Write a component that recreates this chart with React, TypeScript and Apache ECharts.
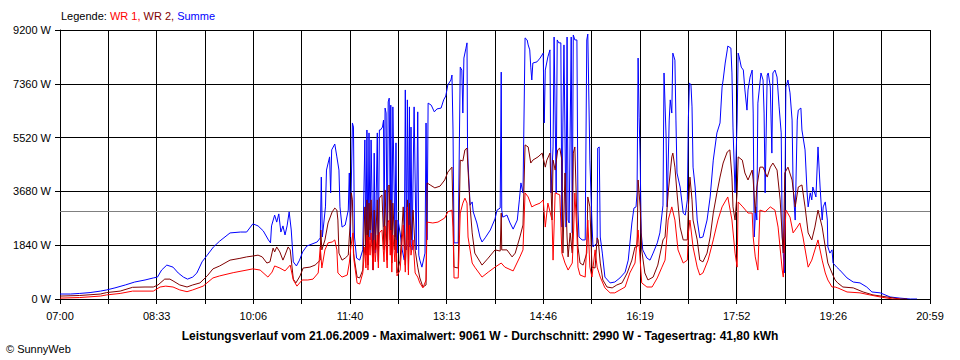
import { useEffect, useRef } from "react";
import * as echarts from "echarts";

// time axis: minutes after 07:00 (07:00 -> 20:59 = 839 minutes)
const dayMinutes = 839;
const gridDivisions = 18;
const timeTickLabels = ["07:00", "08:33", "10:06", "11:40", "13:13", "14:46", "16:19", "17:52", "19:26", "20:59"];
const yMax = 9200;
const yStep = 1840;
const averageW = 2990;
const captionText =
  "Leistungsverlauf vom 21.06.2009 - Maximalwert: 9061 W - Durchschnitt: 2990 W - Tagesertrag: 41,80 kWh";

// [minute after 07:00, W]
const summe: [number, number][] = [
  [0,170],[10,170],[19,190],[29,220],[39,270],[45,310],[53,380],[63,480],[72,580],[82,650],[90,720],[94,750],[98,990],[103,1160],[109,1090],[114,890],[119,750],[123,680],[128,750],[132,890],[137,1270],[142,1500],[148,1780],[154,1980],[164,2260],[174,2290],[180,2290],[186,2570],[191,2500],[196,2330],[201,2020],[203,1920],[204,2500],[207,2870],[209,2630],[211,2910],[213,2290],[215,2500],[217,2190],[219,2500],[221,2980],[223,2360],[225,1270],[228,1130],[231,1330],[234,1610],[238,1810],[243,1880],[248,1950],[251,2090],[252,4170],[253,2120],[256,3150],[257,4410],[260,4860],[261,3630],[262,5100],[265,5300],[267,4860],[269,4410],[270,3150],[272,2460],[275,2530],[278,3040],[279,4310],[280,2120],[282,6020],[283,5880],[284,2120],[286,1400],[289,1330],[292,1680],[294,5440],[295,1570],[296,5780],[297,1330],[298,5680],[299,2020],[300,5440],[302,990],[303,4990],[304,1570],[306,5680],[307,1330],[308,5780],[309,5780],[311,5880],[312,6120],[312.5,2460],[313.5,6530],[314.5,6360],[315.5,1570],[316.5,6740],[317.5,6870],[318.5,2700],[319,6630],[320,1570],[321,6570],[323,2120],[324,5340],[325,1570],[326,2700],[328,2260],[330,1680],[332,1330],[333,7150],[334,1680],[335,6810],[336,2020],[337,6570],[337.5,1780],[338.5,5880],[339.5,1680],[341.5,6570],[342.5,4070],[343.5,1680],[345,6400],[346,1500],[347,1330],[349,1090],[352,1570],[353,6020],[354,2020],[355,6700],[358,6630],[361,6400],[363.5,6500],[367.5,6530],[370,6810],[372,6940],[374,7320],[377,7490],[378,7660],[379,5780],[380,1920],[384,1920],[386,7930],[387.5,7830],[388.5,6360],[389.5,8240],[391.5,8580],[392.5,8760],[393,5200],[393.5,4650],[395.5,3210],[397.5,3320],[398.5,2980],[402,2600],[405,2120],[407,1950],[410,2090],[415,2360],[419.5,2740],[421.5,3040],[424.5,3110],[425.5,7760],[426,3040],[427,2800],[431,2870],[434,2600],[437,2390],[441,2700],[443,3390],[444.5,3970],[446.5,3630],[448.5,8930],[450.5,8860],[451.5,8690],[453,8520],[454,7930],[455,7490],[456,8070],[460,8110],[463,8240],[466,8410],[467,6020],[468,7830],[470.5,8280],[472.5,8520],[473.5,3630],[475.5,5200],[476.5,8960],[478.5,3630],[479.5,8860],[481,8760],[483,8760],[484,2460],[485,6020],[486,8690],[488,2460],[489,8960],[490,2700],[491,2600],[493,8960],[494,2260],[495,9030],[496.5,8860],[498.5,8860],[499.5,3040],[500.5,2120],[503.5,2020],[506.5,2020],[508,8860],[509,9061],[511,4750],[513,2600],[514,1780],[518,1920],[518.5,5160],[520,5200],[521,2120],[523,1570],[525.5,750],[530.5,550],[535,580],[540,720],[545,920],[548,1330],[551.5,2600],[553.5,3110],[555.5,3150],[556.5,3630],[557.5,8240],[558.5,6220],[559.5,4750],[560.5,2260],[562,1680],[566,1400],[569,1330],[572,1570],[576,1920],[578.5,2260],[581.5,3210],[582.5,7730],[584.5,5540],[585.5,3150],[587.5,6120],[588.5,6810],[590,6360],[591,8410],[593,8170],[594,6120],[595,4310],[598,3830],[601,2940],[603,2870],[605,3390],[606,6220],[607,7390],[608.5,7320],[609.5,6570],[610.5,4510],[612.5,3830],[614.5,2700],[617,2090],[620,2120],[624,2700],[627,3490],[630,4750],[633.5,5680],[636.5,6020],[638.5,7250],[639.5,7490],[641.5,8070],[643.5,8520],[644,8650],[647,8580],[648,7730],[649,5880],[651,3630],[653,6120],[654,8410],[655,8280],[657,7930],[659,7830],[660.5,7150],[662.5,6460],[663.5,7150],[665.5,7590],[667.5,7830],[668.5,6360],[669.5,2120],[671,3150],[672,2700],[673,6700],[676,7730],[678,7490],[679,6360],[680,3630],[682,7660],[683,7730],[685,7250],[686.5,4990],[687.5,7730],[689.5,7830],[691.5,7590],[693.5,6570],[695.5,5680],[696.5,2120],[697.5,1570],[698.5,890],[700,7250],[702,7490],[704,7050],[706,6120],[707,3830],[709,2700],[711,6120],[712,6460],[714.5,6530],[715.5,5780],[718.5,5100],[720.5,3630],[721.5,3150],[723.5,3630],[725,3390],[726,3830],[729,3490],[731,5200],[733,3830],[735,2700],[736,3150],[738,3320],[740,2700],[740.5,1780],[742.5,1570],[744.5,1680],[745.5,1230],[749,1090],[752,990],[759,720],[765,580],[771.5,550],[778,410],[783,240],[791,210],[800.5,70],[810,30],[820,0],[826.5,0],
];

const wr2: [number, number][] = [
  [0,100],[19,120],[39,170],[45,220],[58,270],[70,400],[82,410],[90,410],[94.5,480],[101,680],[106,680],[109,620],[115.5,480],[122.5,410],[128,480],[135,550],[142,790],[147.5,1030],[154,1130],[164,1330],[173.5,1390],[180,1440],[186,1470],[191,1500],[195,1440],[199.5,1230],[202.5,1270],[205.5,1740],[207,1610],[209,1780],[212,1610],[215,1330],[217,1500],[220,1780],[222,1680],[225,680],[227.5,550],[231.5,790],[234.5,1060],[241,1090],[246,1160],[251,1330],[251.5,2360],[252.5,1680],[255.5,2020],[258.5,2600],[262.5,2980],[265,3110],[267,3040],[268,2700],[269,1570],[272,1330],[275,1400],[278,1500],[279,2120],[280,2600],[281,3630],[282,3390],[283,1570],[286.5,750],[289,720],[292,990],[294,3150],[295,1500],[296,3390],[297,1160],[298,3280],[299,2360],[300,3390],[302,990],[303,3040],[304,1680],[306,3390],[307,1270],[308,3450],[310.5,3560],[312.5,1680],[313.5,3730],[315.5,1330],[316.5,3860],[317.5,3900],[318.5,2020],[319,3390],[320,1230],[321,3280],[323,1680],[324,2700],[325,890],[328,1330],[331,3150],[333,1160],[335,3390],[336,990],[337,3280],[338.5,2020],[340.5,3040],[342.5,1680],[345,1090],[347,720],[350,410],[353,480],[354,3970],[357,3900],[361.5,3800],[366.5,3860],[371,4070],[374,4340],[378,4510],[379,2940],[380,1090],[384,1060],[386,4750],[388.5,4720],[390.5,5100],[392.5,5160],[393.5,4410],[395.5,3150],[397.5,2260],[400,1570],[407,1160],[413,1400],[419.5,1680],[424.5,1640],[425.5,2940],[426,1680],[431,1680],[436,1440],[439,1570],[443.5,2120],[446.5,2530],[448.5,5270],[451.5,5200],[454,4650],[456,4750],[461,4860],[465,4990],[466,4820],[468,4510],[469.5,4750],[472.5,4990],[474.5,2700],[475.5,4750],[477.5,4410],[480,5100],[482,5160],[484,4750],[485,1570],[487,4310],[489,2120],[490,1440],[492,2260],[494,1570],[495,4990],[496.5,5200],[498.5,2700],[499.5,1780],[501.5,1230],[504.5,1160],[508,1570],[509,3490],[511,3150],[513,1090],[516,1060],[518,2090],[519,2020],[521,1230],[523.5,650],[527.5,410],[532.5,380],[537,480],[542,550],[547,890],[551.5,1330],[554.5,1780],[556.5,1780],[557.5,4070],[559.5,3150],[561,1680],[564,890],[567,650],[572,750],[576.5,1160],[581.5,2020],[583.5,2120],[586.5,3630],[590,4860],[591,4990],[593,4510],[595,3630],[598,2460],[601,2020],[605,2020],[606,3150],[607.5,4170],[609.5,3390],[610.5,2700],[614.5,2020],[617,1330],[620,1270],[624,1570],[627,2120],[630,2940],[633.5,3630],[636.5,4170],[639.5,4650],[643.5,5030],[646,5100],[648,4170],[649,3150],[651,2700],[653,3630],[654,4860],[658,4750],[660.5,4310],[663.5,4070],[667.5,4410],[668.5,4070],[670.5,2940],[672,3830],[675,4510],[678,4510],[682,4170],[685,4510],[687.5,4650],[691.5,4410],[694.5,3390],[696.5,2120],[697.5,1570],[699,4310],[702,4510],[706,4070],[709,3150],[712,3830],[715.5,3900],[718.5,3150],[721.5,2260],[725,2020],[728,2460],[731,3040],[735,2460],[738,1780],[740.5,1230],[744.5,890],[747.5,650],[750,550],[755,410],[765,380],[774.5,240],[784,140],[797.5,70],[810,0],[817,0],
];

const wr1: [number, number][] = [
  [0,30],[19,50],[39,100],[45,140],[58,190],[70,270],[90,270],[96.5,410],[102,440],[109,410],[115.5,310],[122.5,250],[128,310],[138,440],[147.5,720],[154,790],[167,900],[186,1030],[193,990],[200.5,750],[204.5,920],[207,1130],[212,1060],[217,960],[222,1160],[225,650],[228.5,440],[233.5,650],[239,650],[244,680],[249,890],[251,1780],[252.5,1060],[255.5,1680],[258.5,1920],[262.5,1950],[265,2020],[267,1680],[268,890],[272,750],[277,820],[279,1230],[280.5,1780],[282.5,2260],[283.5,1330],[286.5,550],[289,510],[292,890],[294,1780],[295,1060],[296,2190],[297,990],[298,2120],[299,1500],[300,2260],[302,990],[303,2020],[304,1270],[306,2190],[307,1060],[308,2260],[310.5,2360],[312.5,1270],[313.5,2500],[315.5,1060],[316.5,2630],[317.5,2700],[318.5,1500],[319,2360],[320,920],[321,2190],[323,1270],[324,2020],[325,790],[328,990],[331,2530],[333,920],[335,3150],[336,820],[337,2530],[338.5,1500],[340.5,2020],[342.5,890],[345,750],[347,550],[350,380],[353,650],[354,2630],[359.5,2600],[364.5,2630],[371,2770],[374,2980],[378,3040],[379,2460],[380,720],[384,720],[386,2940],[388.5,3280],[390.5,3450],[392.5,3280],[393.5,2120],[397.5,1230],[400,1090],[407,750],[413,920],[419.5,1090],[425.5,1230],[429,1090],[437,960],[443.5,1440],[446.5,1680],[448.5,3630],[451.5,3490],[455,3150],[458,3210],[463,3280],[466,3390],[468,2460],[470.5,3280],[474.5,2700],[475.5,1330],[477.5,3630],[482,3560],[484,1570],[487,1230],[490,990],[494,1230],[495,2020],[496.5,3630],[498.5,2260],[499.5,1090],[501.5,820],[506.5,750],[509,2700],[511,1090],[513,750],[516,1680],[518,1090],[521,750],[525.5,380],[530.5,210],[535,210],[540,310],[545,410],[549.5,890],[554.5,1230],[557.5,2360],[559.5,1330],[561,550],[566,410],[571,410],[576,720],[580.5,1090],[583.5,1330],[586.5,2700],[590,3150],[593,2700],[596,1680],[601,1230],[605,1330],[606,2260],[607.5,2700],[610.5,1780],[614.5,1090],[617,820],[620,890],[625,1330],[630,2020],[634.5,2700],[638.5,3150],[644,3490],[648,2700],[651,1570],[653,1090],[654,3320],[658.5,3150],[663.5,2940],[667.5,2940],[668.5,2120],[670.5,1440],[673,990],[675,3040],[680,2980],[685,3150],[689.5,3040],[692.5,2460],[696.5,990],[697.5,750],[700,3040],[704,2800],[707,2260],[711,2460],[713.5,2600],[716.5,2120],[721.5,1090],[725,1330],[728,1680],[731,2020],[735,1330],[738,890],[740.5,650],[744.5,410],[747.5,410],[750,380],[759,240],[771.5,210],[781,140],[791,70],[803,0],[810,0],
];

const FONT = "'Liberation Sans', Arial, sans-serif";

export default function App() {
  const ref = useRef<HTMLDivElement>(null);
  useEffect(() => {
    if (!ref.current) return;
    const chart = echarts.init(ref.current, null, { renderer: "svg" });
    const step = dayMinutes / gridDivisions;
    chart.setOption({
      animation: false,
      backgroundColor: "#ffffff",
      textStyle: { fontFamily: FONT },
      title: [
        {
          left: 61,
          top: 10,
          padding: 0,
          text: "{k|Legende: }{r|WR 1, }{m|WR 2, }{b|Summe}",
          textStyle: {
            fontSize: 11,
            fontWeight: "normal",
            fontFamily: FONT,
            rich: {
              k: { color: "#000000", fontSize: 11, fontFamily: FONT },
              r: { color: "#ff0000", fontSize: 11, fontFamily: FONT },
              m: { color: "#800000", fontSize: 11, fontFamily: FONT },
              b: { color: "#0000ff", fontSize: 11, fontFamily: FONT },
            },
          },
        },
        {
          left: "center",
          top: 330,
          padding: 0,
          text: captionText,
          textStyle: { fontSize: 12, fontWeight: "bold", color: "#000000", fontFamily: FONT },
        },
        {
          left: 6,
          top: 343,
          padding: 0,
          text: "© SunnyWeb",
          textStyle: { fontSize: 11, fontWeight: "normal", color: "#000000", fontFamily: FONT },
        },
      ],
      grid: { left: 60, top: 30, width: 870, height: 269, containLabel: false },
      xAxis: {
        type: "value",
        min: 0,
        max: dayMinutes,
        interval: step,
        axisLine: { show: true, lineStyle: { color: "#000000", width: 1 } },
        axisTick: { show: true, length: 5, lineStyle: { color: "#000000", width: 1 } },
        splitLine: { show: true, lineStyle: { color: "#000000", width: 1 } },
        axisLabel: {
          color: "#000000",
          fontFamily: FONT,
          fontSize: 11,
          margin: 11,
          showMinLabel: true,
          showMaxLabel: true,
          formatter: (v: number) => {
            const i = Math.round(v / step);
            return i % 2 === 0 ? timeTickLabels[i / 2] ?? "" : "";
          },
        },
      },
      yAxis: {
        type: "value",
        min: 0,
        max: yMax,
        interval: yStep,
        axisLine: { show: true, lineStyle: { color: "#000000", width: 1 } },
        axisTick: { show: true, length: 5, lineStyle: { color: "#000000", width: 1 } },
        splitLine: { show: true, lineStyle: { color: "#000000", width: 1 } },
        axisLabel: {
          color: "#000000",
          fontFamily: FONT,
          fontSize: 11,
          margin: 9,
          formatter: (v: number) => `${v} W`,
        },
      },
      series: [
        {
          name: "Summe",
          type: "line",
          data: summe,
          symbol: "none",
          showSymbol: false,
          z: 3,
          lineStyle: { color: "#0000ff", width: 1 },
          itemStyle: { color: "#0000ff" },
          markLine: {
            silent: true,
            z: 2,
            symbol: ["none", "none"],
            label: { show: false },
            lineStyle: { color: "#808080", type: "solid", width: 1 },
            data: [{ yAxis: averageW }],
          },
        },
        {
          name: "WR 2",
          type: "line",
          data: wr2,
          symbol: "none",
          showSymbol: false,
          z: 4,
          lineStyle: { color: "#800000", width: 1 },
          itemStyle: { color: "#800000" },
        },
        {
          name: "WR 1",
          type: "line",
          data: wr1,
          symbol: "none",
          showSymbol: false,
          z: 5,
          lineStyle: { color: "#ff0000", width: 1 },
          itemStyle: { color: "#ff0000" },
        },
      ],
    });
    return () => chart.dispose();
  }, []);
  return (
    <div
      ref={ref}
      style={{ position: "fixed", left: 0, top: 0, width: 960, height: 360, background: "#ffffff" }}
    />
  );
}
